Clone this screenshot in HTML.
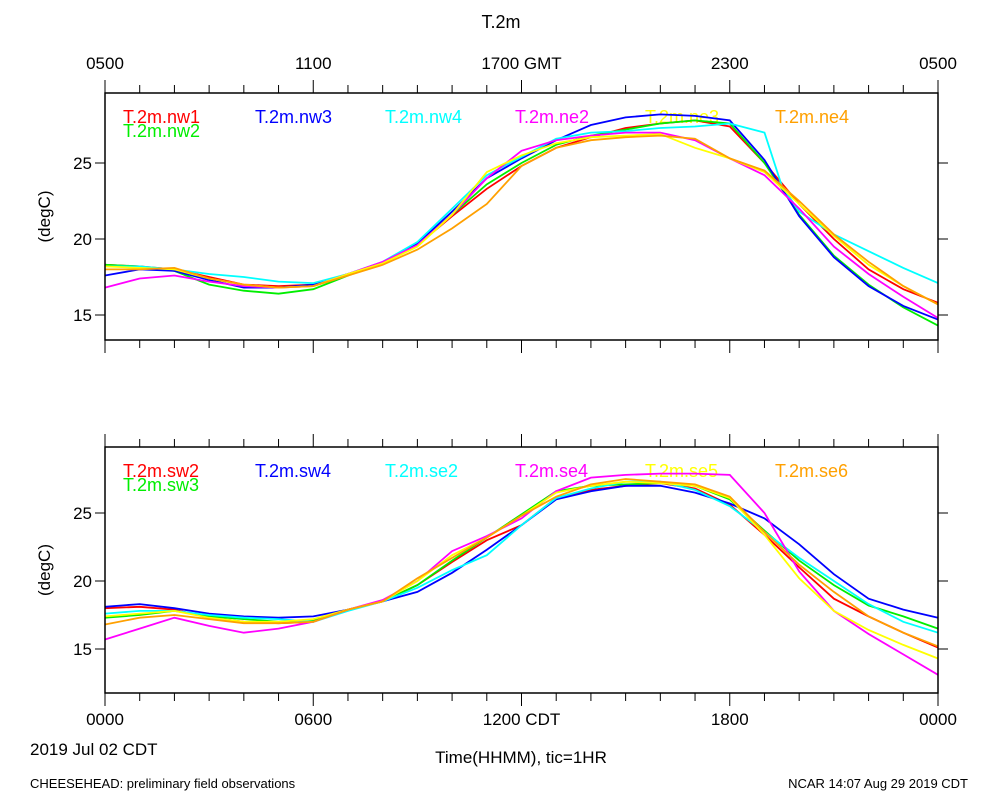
<!DOCTYPE html>
<html><head><meta charset="utf-8"><style>
body{margin:0;background:#fff;width:1000px;height:800px;overflow:hidden}
svg text{font-family:"Liberation Sans",sans-serif}
</style></head><body>
<svg id="c" width="1000" height="800" xmlns="http://www.w3.org/2000/svg">
<text x="501" y="28" font-size="18" text-anchor="middle">T.2m</text>
<text x="30" y="755" font-size="17">2019 Jul 02 CDT</text>
<text x="521" y="763" font-size="17" text-anchor="middle">Time(HHMM), tic=1HR</text>
<text x="30" y="788" font-size="13">CHEESEHEAD: preliminary field observations</text>
<text x="968" y="788" font-size="13" text-anchor="end">NCAR 14:07 Aug 29 2019 CDT</text>
</svg>
<script>
const hours=[0,1,2,3,4,5,6,7,8,9,10,11,12,13,14,15,16,17,18,19,20,21,22,23,24];
const hoursNw4=[0,1,2,3,4,5,6,7,8,9,10,11,12,13,14,15,16,17,18,19,19.5,20,21,22,23,24];
const topNames=["T.2m.nw1","T.2m.nw2","T.2m.nw3","T.2m.nw4","T.2m.ne2","T.2m.ne3","T.2m.ne4"];
const nw1=[18.3,18.2,18.0,17.5,17.0,16.9,17.0,17.7,18.4,19.6,21.5,23.3,24.8,26.0,26.7,27.3,27.6,27.8,27.4,25.0,22.3,20.0,18.0,16.7,15.8];
const nw2=[18.3,18.2,17.9,17.0,16.6,16.4,16.7,17.6,18.4,19.6,21.6,23.6,25.0,26.2,26.8,27.2,27.6,27.8,27.6,25.0,21.6,18.9,17.0,15.5,14.3];
const nw3=[17.6,18.0,17.9,17.3,16.8,16.8,17.0,17.7,18.4,19.7,21.8,24.0,25.3,26.5,27.5,28.0,28.2,28.1,27.8,25.2,21.5,18.8,16.9,15.6,14.7];
const nw4=[18.2,18.2,18.0,17.7,17.5,17.2,17.1,17.7,18.5,19.8,22.0,24.2,25.4,26.6,27.0,27.1,27.3,27.4,27.6,27.0,23.5,21.8,20.3,19.2,18.1,17.1];
const ne2=[16.8,17.4,17.6,17.2,16.9,16.8,16.9,17.7,18.5,19.6,21.6,24.0,25.8,26.5,26.8,27.0,27.0,26.5,25.3,24.2,22.0,19.5,17.7,16.2,14.8];
const ne3=[18.2,18.1,18.0,17.4,17.0,16.8,16.9,17.7,18.4,19.5,21.6,24.4,25.5,26.3,26.7,26.8,26.9,26.0,25.3,24.4,22.3,20.2,18.3,16.9,15.7];
const ne4=[18.0,18.0,18.1,17.4,17.0,16.8,16.9,17.6,18.3,19.3,20.7,22.3,24.8,26.0,26.5,26.7,26.8,26.6,25.3,24.5,22.5,20.3,18.5,16.9,15.7];
const botNames=["T.2m.sw2","T.2m.sw3","T.2m.sw4","T.2m.se2","T.2m.se4","T.2m.se5","T.2m.se6"];
const sw2=[18.0,18.1,17.9,17.3,17.0,16.9,17.0,17.9,18.5,19.7,21.4,23.0,24.1,26.1,26.7,27.0,27.2,26.8,25.6,23.4,21.0,18.7,17.4,16.2,15.1];
const sw3=[17.3,17.5,17.8,17.4,17.2,17.0,17.1,17.9,18.5,19.7,21.5,23.2,24.9,26.6,27.0,27.1,27.2,27.0,26.0,23.7,21.5,19.7,18.2,17.4,16.5];
const sw4=[18.1,18.3,18.0,17.6,17.4,17.3,17.4,17.9,18.5,19.2,20.6,22.3,24.1,26.0,26.6,27.0,27.0,26.5,25.7,24.6,22.7,20.5,18.7,17.9,17.3];
const se2=[17.6,17.8,17.8,17.5,17.3,17.2,17.0,17.8,18.5,19.5,20.8,21.9,24.1,26.1,26.8,27.3,27.3,26.7,25.5,23.6,21.7,20.0,18.3,17.0,16.2];
const se4=[15.7,16.5,17.3,16.7,16.2,16.5,17.0,17.9,18.6,20.0,22.2,23.3,24.6,26.6,27.6,27.8,27.9,27.9,27.8,25.0,20.7,17.8,16.1,14.6,13.1];
const se5=[17.4,17.6,17.8,17.3,17.0,17.0,17.2,17.9,18.5,20.0,21.9,23.2,24.8,26.5,27.0,27.3,27.2,27.0,26.1,23.4,20.2,17.8,16.4,15.3,14.3];
const se6=[16.8,17.3,17.5,17.2,16.9,16.9,17.0,17.9,18.5,20.2,21.7,23.2,24.8,26.2,27.1,27.5,27.3,27.1,26.2,23.6,21.2,19.2,17.4,16.2,15.2];
const topSeries=[nw1,nw2,nw3,nw4,ne2,ne3,ne4];
const botSeries=[sw2,sw3,sw4,se2,se4,se5,se6];
const colors=["#ff0000","#00ee00","#0000ff","#00ffff","#ff00ff","#ffff00","#ffa000"];
const yTicks=[15,20,25];
const topLabels=["0500","1100","1700 GMT","2300","0500"];
const botLabels=["0000","0600","1200 CDT","1800","0000"];
const NS="http://www.w3.org/2000/svg";
const svg=document.getElementById('c');
const X0=105,X1=938;
function xs(h){return X0+(X1-X0)*h/24;}
function mk(t,a){const e=document.createElementNS(NS,t);for(const k in a)e.setAttribute(k,a[k]);svg.appendChild(e);return e;}
function panel(p,top,bot,yAt,names,series,labels,labelY){
  for(let h=0;h<=24;h++){
    const len=h%6==0?13:8,x=xs(h);
    const t1=mk('line',{x1:x,x2:x,y1:top-len,y2:top,stroke:'#000','stroke-width':1});
    
    
    const t2=mk('line',{x1:x,x2:x,y1:bot,y2:bot+len,stroke:'#000','stroke-width':1});
    
    
  }
  yTicks.forEach(v=>{
    const y=yAt(v);
    const l=mk('line',{x1:X0-10,x2:X0,y1:y,y2:y,stroke:'#000'});
    
    
    const r=mk('line',{x1:X1,x2:X1+10,y1:y,y2:y,stroke:'#000'});
    
    
    const t=mk('text',{x:92,y:y+6,'font-size':17,'text-anchor':'end'});t.textContent=v;
    
    
  });
  const yt=mk('text',{x:0,y:0,'font-size':17,'text-anchor':'middle',transform:`translate(50,${(top+bot)/2}) rotate(-90)`});
  yt.textContent='(degC)';
  
  
  labels.forEach((s,i)=>{
    const t=mk('text',{x:xs(i*6),y:labelY,'font-size':17,'text-anchor':'middle'});t.textContent=s;
    
    
  });
  const lx=[123,123,255,385,515,645,775];
  names.forEach((n,i)=>{
    const t=mk('text',{x:lx[i],y:top+(i==1?44:30),'font-size':18,fill:colors[i]});t.textContent=n;
    
    
  });
  series.forEach((d,i)=>{
    const hx=(d===nw4)?hoursNw4:hours;
    const pts=hx.map((h,j)=>xs(h).toFixed(1)+','+yAt(d[j]).toFixed(1)).join(' ');
    const pl=mk('polyline',{points:pts,fill:'none',stroke:colors[i],'stroke-width':1.8});
    
    
  });
  const fr=mk('rect',{x:X0,y:top,width:X1-X0,height:bot-top,fill:'none',stroke:'#000','stroke-width':1.5});
  
  
}
panel('top',93,340,v=>163-(v-25)*15.2,topNames,topSeries,topLabels,69);
panel('bottom',447,693,v=>513-(v-25)*13.6,botNames,botSeries,botLabels,725);
</script>
</body></html>
